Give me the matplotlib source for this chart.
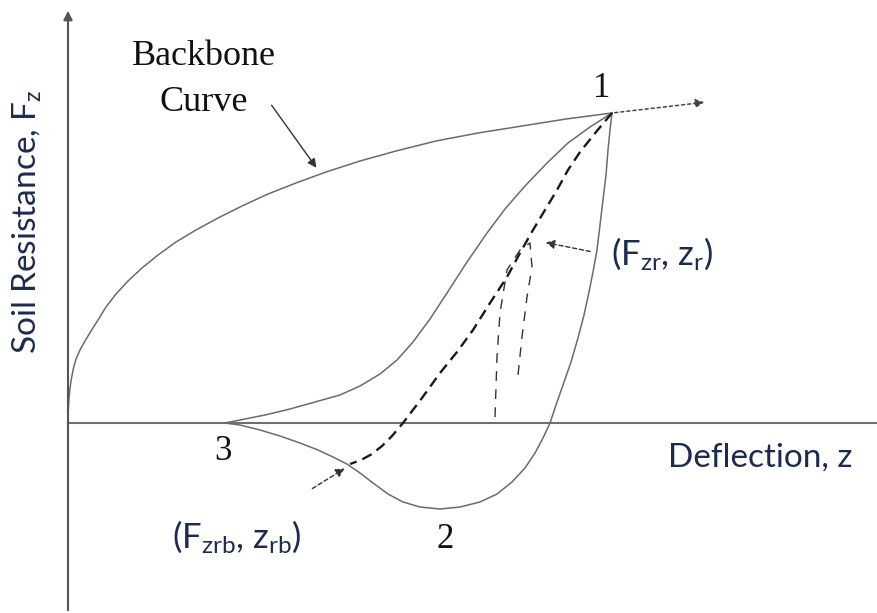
import matplotlib
matplotlib.use('Agg')
import matplotlib.pyplot as plt

# hysteresis loop data, deflection z vs soil resistance Fz (arbitrary units)
backbone_z = [0, 0.003, 0.01, 0.02, 0.035, 0.055, 0.08, 0.12, 0.17, 0.23, 0.30, 0.38, 0.48, 0.60, 0.74,
              0.90, 1.08, 1.28, 1.50, 1.74, 2.00, 2.28, 2.58, 2.92, 3.28, 3.68, 4.10, 4.54, 4.98, 5.44]
backbone_f = [0, 0.13, 0.25, 0.35, 0.45, 0.55, 0.64, 0.73, 0.82, 0.92, 1.03, 1.16, 1.29, 1.42, 1.55,
              1.68, 1.81, 1.93, 2.05, 2.17, 2.29, 2.40, 2.51, 2.62, 2.72, 2.82, 2.90, 2.97, 3.04, 3.10]

unload_z = [5.44, 5.42, 5.40, 5.38, 5.35, 5.32, 5.29, 5.25, 5.21, 5.16, 5.10, 5.03, 4.95, 4.88, 4.82,
            4.75, 4.67, 4.57, 4.44, 4.29, 4.12, 3.92, 3.72, 3.52, 3.35, 3.20, 3.05, 2.92, 2.79, 2.65,
            2.50, 2.32, 2.12, 1.92, 1.72, 1.57]
unload_f = [3.10, 2.93, 2.73, 2.48, 2.23, 1.98, 1.73, 1.51, 1.31, 1.08, 0.85, 0.61, 0.38, 0.18, 0,
            -0.15, -0.30, -0.45, -0.59, -0.71, -0.79, -0.84, -0.86, -0.84, -0.79, -0.71, -0.60, -0.50,
            -0.41, -0.34, -0.27, -0.20, -0.13, -0.07, -0.02, 0]

reload_z = [1.57, 1.77, 1.97, 2.22, 2.47, 2.72, 2.92, 3.12, 3.29, 3.45, 3.62, 3.79, 3.99, 4.19, 4.37,
            4.57, 4.79, 5.00, 5.22, 5.44]
reload_f = [0, 0.04, 0.08, 0.14, 0.21, 0.28, 0.37, 0.49, 0.63, 0.81, 1.04, 1.30, 1.61, 1.90, 2.14,
            2.37, 2.60, 2.80, 2.96, 3.10]

secant_z = [5.44, 5.28, 5.12, 5.00, 4.89, 4.77, 4.65, 4.52, 4.39, 4.22, 4.05, 3.89, 3.72, 3.54, 3.35,
            3.24, 3.14, 3.04, 2.93, 2.82]
secant_f = [3.10, 2.91, 2.71, 2.53, 2.33, 2.13, 1.93, 1.70, 1.46, 1.20, 0.93, 0.71, 0.50, 0.25, 0,
            -0.13, -0.23, -0.31, -0.37, -0.41]

inner_z = [4.27, 4.29, 4.32, 4.39, 4.52, 4.62, 4.64, 4.59, 4.54, 4.50]
inner_f = [0.06, 0.66, 1.10, 1.53, 1.73, 1.80, 1.56, 1.26, 0.86, 0.48]

peak = (5.44, 3.10)
beyond = (6.39, 3.21)

plt.rcParams['mathtext.fontset'] = 'custom'
plt.rcParams['mathtext.rm'] = 'Lato'
plt.rcParams['mathtext.it'] = 'Lato:italic'

txt_col = '#1c2b4f'
sans = ['Lato', 'DejaVu Sans']
serif = ['Liberation Serif', 'DejaVu Serif']

fig = plt.figure(figsize=(8.78, 6.13), dpi=100)
ax = fig.add_axes([0, 0, 1, 1])
ax.set_xlim(-0.68, 8.10)
ax.set_ylim(-1.90, 4.23)
ax.axis('off')

axis_col = '#707070'
# axes
ax.plot([0, 8.10], [0, 0], color=axis_col, lw=1.5)
ax.annotate('', xy=(0, 4.15), xytext=(0, -1.90),
            arrowprops=dict(arrowstyle='-|>', color='#555555', lw=1.5, mutation_scale=13))

curve_col = '#6b6b6b'
ax.plot(backbone_z, backbone_f, color=curve_col, lw=1.1)
ax.plot(unload_z, unload_f, color=curve_col, lw=1.1)
ax.plot(reload_z, reload_f, color=curve_col, lw=1.1)
ax.plot(secant_z, secant_f, color='#1a1a1a', lw=1.7, dashes=(4.5, 2.6))
ax.plot(inner_z, inner_f, color='#333333', lw=1.0, dashes=(7, 6))

# dotted continuation of the backbone
ax.annotate('', xy=beyond, xytext=peak,
            arrowprops=dict(arrowstyle='-|>', color='#444444', lw=1.1, ls=(0, (2, 2)), mutation_scale=13))

# pointer arrows
ax.annotate('', xy=(2.50, 2.53), xytext=(2.02, 3.20),
            arrowprops=dict(arrowstyle='-|>', color='#333333', lw=1.0, mutation_scale=13))
ax.annotate('', xy=(4.75, 1.81), xytext=(5.25, 1.71),
            arrowprops=dict(arrowstyle='-|>', color='#333333', lw=1.0, ls=(0, (3, 2)), mutation_scale=13))
ax.annotate('', xy=(2.79, -0.44), xytext=(2.42, -0.67),
            arrowprops=dict(arrowstyle='-|>', color='#333333', lw=1.0, ls=(0, (3, 2)), mutation_scale=13))

# labels
ax.text(1.36, 3.67, 'Backbone', family=serif, fontsize=26, ha='center', va='center', color='#111111')
ax.text(1.36, 3.21, 'Curve', family=serif, fontsize=26, ha='center', va='center', color='#111111')
ax.text(5.34, 3.35, '1', family=serif, fontsize=25, ha='center', va='center', color='#111111')
ax.text(3.77, -1.17, '2', family=serif, fontsize=25, ha='center', va='center', color='#111111')
ax.text(1.55, -0.29, '3', family=serif, fontsize=25, ha='center', va='center', color='#111111')

ax.text(6.92, -0.35, 'Deflection, z', family=sans, fontsize=24, ha='center', va='center', color=txt_col)
ax.text(5.94, 1.69, r'(F$_\mathrm{zr}$, z$_\mathrm{r}$)', family=sans, fontsize=25,
        ha='center', va='center', color=txt_col)
ax.text(1.69, -1.14, r'(F$_\mathrm{zrb}$, z$_\mathrm{rb}$)', family=sans, fontsize=25,
        ha='center', va='center', color=txt_col)
ax.text(-0.41, 2.01, r'Soil Resistance, F$_\mathrm{z}$', family=sans, fontsize=24, rotation=90,
        ha='center', va='center', color=txt_col)

fig.savefig('out.png', dpi=100, facecolor='white')
